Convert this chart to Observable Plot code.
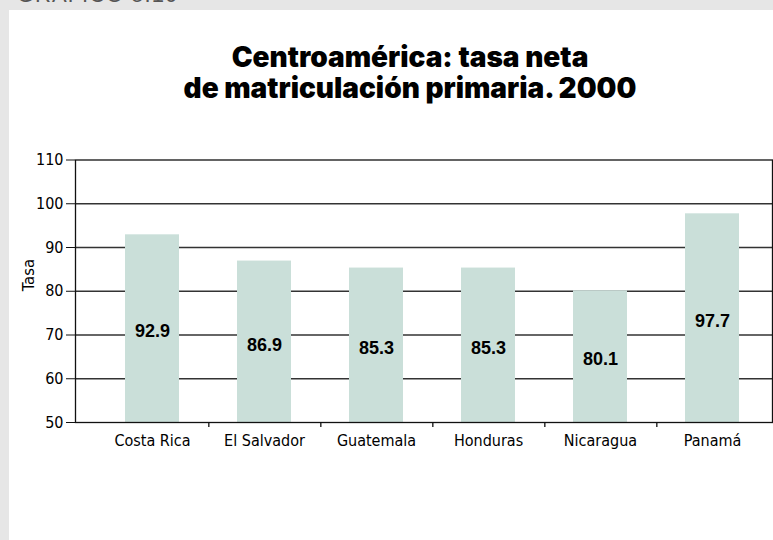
<!DOCTYPE html>
<html><head><meta charset="utf-8">
<script src="https://cdn.jsdelivr.net/npm/d3@7"></script>
<script src="https://cdn.jsdelivr.net/npm/@observablehq/plot@0.6"></script>
<style>
html,body{margin:0;padding:0;}
body{width:773px;height:540px;background:#e6e6e6;position:relative;overflow:hidden;font-family:"Liberation Sans",sans-serif;}
#kicker{position:absolute;left:17px;top:-16px;font-size:22px;line-height:22px;color:#555;font-family:"Liberation Sans",sans-serif;letter-spacing:1px;white-space:nowrap}
#panel{position:absolute;left:9px;top:10px;right:0;bottom:0;background:#fff;}
#title{position:absolute;left:410px;top:42px;transform:translateX(-50%);text-align:center;font-family:Inter,sans-serif;font-weight:900;font-size:28px;line-height:31px;color:#000;white-space:nowrap}
#chart{position:absolute;left:0;top:140px;}
</style></head><body>
<div id="kicker">GRÁFICO 5.10</div>
<div id="panel"></div>
<div id="title">Centroamérica: tasa neta<br>de matriculación primaria. 2000</div>
<div id="chart"></div>
<script>
const countries = ["Costa Rica","El Salvador","Guatemala","Honduras","Nicaragua","Panamá"];
const rates = [92.9, 86.9, 85.3, 85.3, 80.1, 97.7];
const yTicks = [50, 60, 70, 80, 90, 100, 110];
const gridValues = [60, 70, 80, 90, 100];
const yLabel = "Tasa";
const baseline = 50;

const data = countries.map((c, i) => ({country: c, rate: rates[i]}));

const xRange = [94, 770];
const padInner = 0.52, padOuter = 0.26;
const step = d3.scaleBand().domain(countries).range(xRange).paddingInner(padInner).paddingOuter(padOuter).step();
const axisFont = '"DejaVu Sans Condensed","Liberation Sans",sans-serif';

const chart = Plot.plot({
  width: 773,
  height: 330,
  marginLeft: 75,
  marginRight: 1,
  marginTop: 19.5,
  marginBottom: 48,
  style: {fontFamily: axisFont, fontStretch: "condensed", fontSize: "15px", color: "#000", background: "transparent"},
  x: {type: "band", domain: countries, range: xRange, paddingInner: padInner, paddingOuter: padOuter, label: null},
  y: {domain: [50, 110], label: null},
  marks: [
    Plot.ruleY(gridValues, {stroke: "#333", strokeWidth: 1.3}),
    Plot.barY(data, {x: "country", y1: baseline, y2: "rate", fill: "#cadfd9"}),
    Plot.frame({stroke: "#111", strokeWidth: 1.3}),
    Plot.ruleX(countries.slice(0, -1), {x: d => d, y1: baseline, y2: baseline, insetBottom: -5, dx: step / 2, stroke: "#111", strokeWidth: 1.3}),
    Plot.axisY({ticks: yTicks, tickSize: 9, tickPadding: 3, fontSize: 16, label: null, stroke: "#111"}),
    Plot.axisX({tickSize: 0, tickPadding: 12, fontSize: 16, label: null}),
    Plot.text([yLabel], {frameAnchor: "left", rotate: -90, dx: -47, fontSize: 16.5}),
    Plot.text(data, {x: "country", y: d => (baseline + d.rate) / 2, text: d => d.rate.toFixed(1), dy: 3, fontSize: 18, fontWeight: "bold", fontFamily: '"Liberation Sans",sans-serif', fill: "#000"})
  ]
});
document.getElementById("chart").appendChild(chart);
</script>
</body></html>
